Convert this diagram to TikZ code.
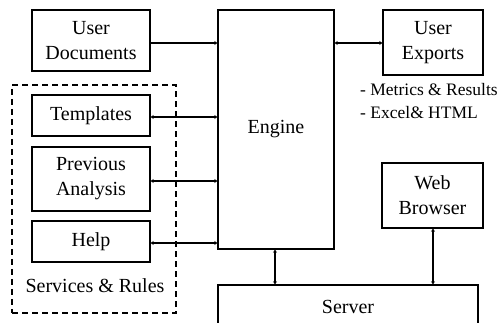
\documentclass[tikz,border=0pt]{standalone}
\usepackage{fontspec}
\setmainfont{Liberation Serif}
\usetikzlibrary{arrows.meta}
\begin{document}
\begin{tikzpicture}[x=1pt,y=-1pt,
  box/.style={draw,line width=1.3pt,inner sep=0pt,align=center,font=\fontsize{20}{25}\selectfont},
  conn/.style={line width=1.2pt,{Stealth[length=3pt,width=4pt]}-{Stealth[length=3pt,width=4pt]}},
  oneway/.style={line width=1.2pt,-{Stealth[length=3pt,width=4pt]}},
  lbl/.style={inner sep=0pt,font=\fontsize{20}{25}\selectfont}]
\useasboundingbox (0,0) rectangle (501,323);
\node[box,minimum width=118pt,minimum height=61pt] (ud) at (91,40.5) {User\\Documents};
\node[box,minimum width=118pt,minimum height=41pt] (tp) at (91,115.5) {Templates};
\node[box,minimum width=118pt,minimum height=64pt] (pa) at (91,179) {Previous\\Analysis};
\node[box,minimum width=118pt,minimum height=41pt] (hp) at (91,241.5) {Help};
\node[box,minimum width=116pt,minimum height=239pt] (en) at (276,129.5) {Engine};
\node[box,minimum width=100pt,minimum height=65pt] (ue) at (433,42.5) {User\\Exports};
\node[box,minimum width=101pt,minimum height=65pt] (wb) at (432.5,195.5) {Web\\Browser};
\node[box,minimum width=260pt,minimum height=44pt] (sv) at (348,307) {Server};
\node[draw,dashed,dash pattern=on 6pt off 4pt,line width=1.2pt,minimum width=164pt,minimum height=228pt,inner sep=0pt] (sr) at (94,199) {};
\node[lbl] (srl) at (95,286) {Services \& Rules};
\node[inner sep=0pt,anchor=west,align=left,font=\fontsize{17.5}{23}\selectfont] (mt) at (360,101) {- Metrics \& Results\\- Excel\& HTML};
\draw[oneway] (ud.east |- 0,43) -- (en.west |- 0,43);
\draw[conn] (tp.east |- 0,117) -- (en.west |- 0,117);
\draw[conn] (pa.east |- 0,181) -- (en.west |- 0,181);
\draw[conn] (hp.east |- 0,243) -- (en.west |- 0,243);
\draw[conn] (en.east |- 0,43) -- (ue.west |- 0,43);
\draw[conn] (en.south -| 275,0) -- (sv.north -| 275,0);
\draw[conn] (wb.south -| 433,0) -- (sv.north -| 433,0);
\end{tikzpicture}
\end{document}
